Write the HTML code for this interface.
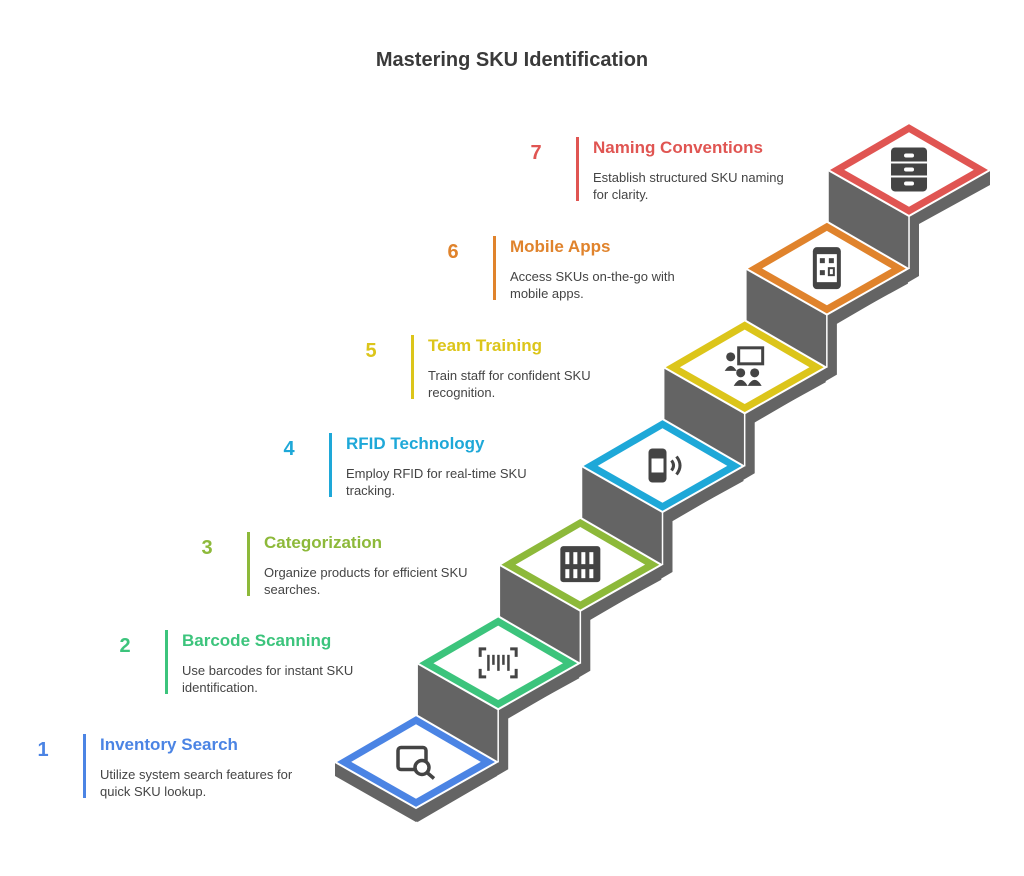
<!DOCTYPE html>
<html><head><meta charset="utf-8">
<style>
html,body{margin:0;padding:0;background:#fff;}
body{width:1024px;height:876px;position:relative;overflow:hidden;font-family:"Liberation Sans",sans-serif;}
h1{position:absolute;left:0;width:1024px;top:49px;margin:0;text-align:center;font-size:20px;font-weight:bold;color:#3a3a3a;}
.blk{position:absolute;width:330px;height:70px;}
.num{position:absolute;left:0;top:5px;width:30px;text-align:center;font-size:20px;font-weight:bold;}
.bar{position:absolute;left:55px;top:0;width:3px;height:64px;}
.t{position:absolute;left:72px;top:1px;font-size:17px;font-weight:bold;white-space:nowrap;}
.d{position:absolute;left:72px;top:32px;font-size:13px;line-height:17px;color:#444;white-space:nowrap;}
svg{position:absolute;left:0;top:0;}
</style></head><body>
<h1>Mastering SKU Identification</h1>
<svg id="s" width="1024" height="876" viewBox="0 0 1024 876"></svg>

<div class="blk" style="left:28px;top:734px"><div class="num" style="color:#4b84e4">1</div><div class="bar" style="background:#4b84e4"></div><div class="t" style="color:#4b84e4">Inventory Search</div><div class="d">Utilize system search features for<br>quick SKU lookup.</div></div>
<div class="blk" style="left:110px;top:630px"><div class="num" style="color:#3cc47c">2</div><div class="bar" style="background:#3cc47c"></div><div class="t" style="color:#3cc47c">Barcode Scanning</div><div class="d">Use barcodes for instant SKU<br>identification.</div></div>
<div class="blk" style="left:192px;top:532px"><div class="num" style="color:#8db93a">3</div><div class="bar" style="background:#8db93a"></div><div class="t" style="color:#8db93a">Categorization</div><div class="d">Organize products for efficient SKU<br>searches.</div></div>
<div class="blk" style="left:274px;top:433px"><div class="num" style="color:#1ea8d8">4</div><div class="bar" style="background:#1ea8d8"></div><div class="t" style="color:#1ea8d8">RFID Technology</div><div class="d">Employ RFID for real-time SKU<br>tracking.</div></div>
<div class="blk" style="left:356px;top:335px"><div class="num" style="color:#dcc51a">5</div><div class="bar" style="background:#dcc51a"></div><div class="t" style="color:#dcc51a">Team Training</div><div class="d">Train staff for confident SKU<br>recognition.</div></div>
<div class="blk" style="left:438px;top:236px"><div class="num" style="color:#e0832c">6</div><div class="bar" style="background:#e0832c"></div><div class="t" style="color:#e0832c">Mobile Apps</div><div class="d">Access SKUs on-the-go with<br>mobile apps.</div></div>
<div class="blk" style="left:521px;top:137px"><div class="num" style="color:#e05552">7</div><div class="bar" style="background:#e05552"></div><div class="t" style="color:#e05552">Naming Conventions</div><div class="d">Establish structured SKU naming<br>for clarity.</div></div>

<script>
var s=document.getElementById('s'),h='';
var cols=['#4b84e4','#3cc47c','#8db93a','#1ea8d8','#dcc51a','#e0832c','#e05552'];
function P(a){return a.map(function(p){return p[0].toFixed(1)+','+p[1].toFixed(1)}).join(' ');}
function icon(n,x,y){
 var c='#444',o='';
 if(n==1){o='<rect x="'+(x-18)+'" y="'+(y-14)+'" width="28" height="22" rx="3" fill="none" stroke="'+c+'" stroke-width="3.5"/><circle cx="'+(x+6)+'" cy="'+(y+6)+'" r="7" fill="#fff" stroke="'+c+'" stroke-width="3.5"/><line x1="'+(x+11)+'" y1="'+(y+11)+'" x2="'+(x+18)+'" y2="'+(y+17)+'" stroke="'+c+'" stroke-width="3.5"/>';}
 if(n==2){o='<path d="M'+(x-18)+','+(y-6)+'v-8h6M'+(x+12)+','+(y-14)+'h6v8M'+(x+18)+','+(y+6)+'v8h-6M'+(x-12)+','+(y+14)+'h-6v-8" fill="none" stroke="'+c+'" stroke-width="3"/>';for(var i=0;i<5;i++)o+='<rect x="'+(x-11+i*5)+'" y="'+(y-8)+'" width="2.5" height="'+(i%2?10:16)+'" fill="'+c+'"/>';}
 if(n==3){o='<rect x="'+(x-20)+'" y="'+(y-18)+'" width="40" height="36" rx="3" fill="'+c+'"/>';for(var i=0;i<4;i++){o+='<rect x="'+(x-15+i*8)+'" y="'+(y-12)+'" width="4" height="12" fill="#fff"/><rect x="'+(x-15+i*8)+'" y="'+(y+5)+'" width="4" height="9" fill="#fff"/>';}}
 if(n==4){o='<rect x="'+(x-14)+'" y="'+(y-17)+'" width="18" height="34" rx="4" fill="'+c+'"/><rect x="'+(x-11)+'" y="'+(y-7)+'" width="12" height="14" fill="#fff"/><path d="M'+(x+9)+','+(y-5)+'q4,5 0,10M'+(x+14)+','+(y-9)+'q7,9 0,18" fill="none" stroke="'+c+'" stroke-width="3"/>';}
 if(n==5){o='<rect x="'+(x-6)+'" y="'+(y-19)+'" width="24" height="16" fill="none" stroke="'+c+'" stroke-width="3"/><circle cx="'+(x-14)+'" cy="'+(y-10)+'" r="4.5" fill="'+c+'"/><path d="M'+(x-20)+','+(y+4)+'q6,-10 12,0z" fill="'+c+'"/><circle cx="'+(x-4)+'" cy="'+(y+6)+'" r="4.5" fill="'+c+'"/><circle cx="'+(x+10)+'" cy="'+(y+6)+'" r="4.5" fill="'+c+'"/><path d="M'+(x-11)+','+(y+19)+'q7,-12 14,0zM'+(x+3)+','+(y+19)+'q7,-12 14,0z" fill="'+c+'"/>';}
 if(n==6){o='<rect x="'+(x-14)+'" y="'+(y-21)+'" width="28" height="42" rx="4" fill="'+c+'"/><rect x="'+(x-10)+'" y="'+(y-14)+'" width="20" height="28" fill="#fff"/><rect x="'+(x-7)+'" y="'+(y-10)+'" width="5" height="5" fill="'+c+'"/><rect x="'+(x+2)+'" y="'+(y-10)+'" width="5" height="5" fill="'+c+'"/><rect x="'+(x-7)+'" y="'+(y+2)+'" width="5" height="5" fill="'+c+'"/><rect x="'+(x+2)+'" y="'+(y)+'" width="5" height="7" fill="none" stroke="'+c+'" stroke-width="2"/>';}
 if(n==7){o='<rect x="'+(x-18)+'" y="'+(y-22)+'" width="36" height="44" rx="4" fill="'+c+'"/><line x1="'+(x-18)+'" y1="'+(y-7)+'" x2="'+(x+18)+'" y2="'+(y-7)+'" stroke="#fff" stroke-width="2"/><line x1="'+(x-18)+'" y1="'+(y+7)+'" x2="'+(x+18)+'" y2="'+(y+7)+'" stroke="#fff" stroke-width="2"/>';for(var i=-1;i<=1;i++)o+='<rect x="'+(x-5)+'" y="'+(y+i*14-2)+'" width="10" height="4" rx="2" fill="#fff"/>';}
 return o;
}
for(var n=7;n>=1;n--){
 var tx=416+82.17*(n-1),ty=715-98.67*(n-1);
 var L=[tx-81,ty+47],B=[tx,ty+93],R=[tx+81,ty+47],T=[tx,ty];
 var g;
 if(n>1) g=[L,B,R,[R[0],R[1]+15],[B[0]+10,B[1]+8],[B[0]+10,B[1]+60],[L[0],B[1]+113]];
 else g=[L,B,R,[R[0],R[1]+14],[B[0],B[1]+14],[L[0],L[1]+14]];
 h+='<polygon points="'+P(g)+'" fill="#646464"/>';
 if(n>1){h+='<line x1="'+L[0]+'" y1="'+L[1]+'" x2="'+L[0]+'" y2="'+(L[1]+53)+'" stroke="#fff" stroke-width="1.5"/>';
  h+='<line x1="'+B[0]+'" y1="'+B[1]+'" x2="'+B[0]+'" y2="'+(B[1]+53)+'" stroke="#fff" stroke-width="1.5"/>';}
 h+='<polygon points="'+P([T,R,B,L])+'" fill="'+cols[n-1]+'" stroke="#fff" stroke-width="2"/>';
 var cx=tx,cy=ty+46.5,k=0.8;
 var I=[T,R,B,L].map(function(p){return [cx+(p[0]-cx)*k,cy+(p[1]-cy)*k];});
 h+='<polygon points="'+P(I)+'" fill="#fff"/>';
 h+=icon(n,cx,cy);
}
s.innerHTML=h;
</script>
</body></html>
